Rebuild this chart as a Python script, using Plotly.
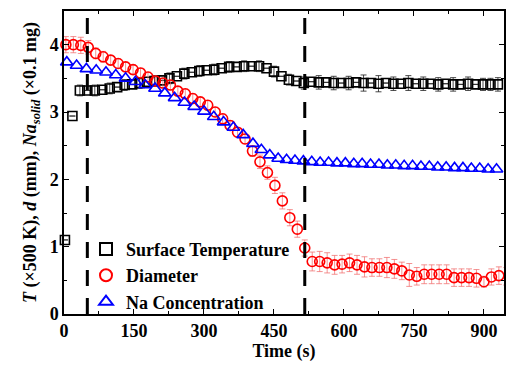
import plotly.graph_objects as go

# ---------------- data ----------------
temp_t = [2 + 16 * k for k in range(59)]
temp_v = [1.10, 2.94, 3.32, 3.32, 3.32, 3.33, 3.35, 3.37, 3.40, 3.41,
          3.43, 3.45, 3.46, 3.47, 3.50, 3.53, 3.57, 3.59, 3.61, 3.62,
          3.63, 3.65, 3.67, 3.67, 3.68, 3.68, 3.68, 3.65, 3.60, 3.53,
          3.48, 3.46, 3.43, 3.45, 3.44, 3.44, 3.43, 3.43, 3.43, 3.44,
          3.43, 3.43, 3.42, 3.43, 3.42, 3.42, 3.43, 3.42, 3.42, 3.42,
          3.41, 3.42, 3.41, 3.41, 3.42, 3.41, 3.41, 3.41, 3.41]
temp_err = [None, None, 0.08, None, 0.08, None, 0.08, None, 0.08, None,
            0.08, None, 0.08, None, 0.08, None, 0.08, None, 0.08, None,
            0.08, None, 0.08, None, 0.08, None, 0.08, None, 0.08, None,
            0.08, None, 0.09, None, 0.10, None, 0.10, None, 0.10, None,
            0.12, None, 0.12, None, 0.10, None, 0.11, None, 0.10, None,
            0.10, None, 0.10, None, 0.10, None, 0.09, 0.09, 0.10]

diam_t = [4 + 16 * k for k in range(60)]
diam_v = [4.00, 4.00, 3.99, 3.96, 3.87, 3.82, 3.77, 3.72, 3.67, 3.63,
          3.58, 3.52, 3.46, 3.43, 3.40, 3.31, 3.27, 3.20, 3.15, 3.10,
          3.00, 2.90, 2.80, 2.70, 2.60, 2.42, 2.26, 2.10, 1.91, 1.68,
          1.43, 1.26, 0.98, 0.78, 0.78, 0.76, 0.73, 0.74, 0.76, 0.73,
          0.70, 0.69, 0.69, 0.69, 0.67, 0.64, 0.58, 0.56, 0.59, 0.59,
          0.59, 0.59, 0.54, 0.54, 0.54, 0.53, 0.48, 0.55, 0.57, 0.56]
diam_err = [0.12, 0.12, 0.12, 0.10, 0.08, 0.08, 0.07, 0.07, 0.07, 0.07,
            0.07, 0.07, 0.07, 0.07, 0.07, 0.07, 0.07, 0.07, 0.07, 0.07,
            0.07, 0.07, 0.07, 0.07, 0.07, 0.08, 0.10, 0.10, 0.12, 0.12,
            0.12, 0.12, 0.12, 0.14, 0.15, 0.15, 0.14, 0.13, 0.13, 0.14,
            0.15, 0.13, 0.13, 0.15, 0.14, 0.13, 0.17, 0.13, 0.14, 0.14,
            0.14, 0.14, 0.13, 0.13, 0.13, 0.13, 0.08, 0.12, 0.13, 0.13]

na_t = [6, 27, 48, 69, 90, 111, 132, 153, 174, 195, 216, 237, 258, 279,
        300, 321, 342, 363, 384, 405] + [423 + 18 * k for k in range(30)]
na_v = [3.74, 3.69, 3.64, 3.62, 3.59, 3.55, 3.50, 3.45, 3.40, 3.35,
        3.28, 3.21, 3.14, 3.08, 3.01, 2.93, 2.85, 2.77, 2.66, 2.53,
        2.44, 2.36, 2.31, 2.29, 2.28, 2.27, 2.26, 2.25, 2.25, 2.24,
        2.24, 2.23, 2.23, 2.22, 2.22, 2.21, 2.21, 2.20, 2.20, 2.19,
        2.19, 2.18, 2.18, 2.17, 2.17, 2.16, 2.16, 2.15, 2.15, 2.15]

stage_lines = [50, 516]
x_ticks = [0, 150, 300, 450, 600, 750, 900]
y_ticks = [0, 1, 2, 3, 4]

FONT = "Liberation Serif"
FS = 18

fig = go.Figure()

fig.add_trace(go.Scatter(
    x=temp_t, y=temp_v, mode="markers", name="Surface Temperature",
    marker=dict(symbol="square-open", size=9, color="black", line=dict(width=1.6, color="black")),
    error_y=dict(type="data", array=temp_err, visible=True, color="rgba(40,40,40,0.85)",
                 thickness=1, width=3),
    cliponaxis=False))

fig.add_trace(go.Scatter(
    x=diam_t, y=diam_v, mode="markers", name="Diameter",
    marker=dict(symbol="circle-open", size=10, color="red", line=dict(width=1.6, color="red")),
    error_y=dict(type="data", array=diam_err, visible=True, color="rgba(240,110,110,0.75)",
                 thickness=1, width=3),
    cliponaxis=False))

fig.add_trace(go.Scatter(
    x=na_t, y=na_v, mode="markers", name="Na Concentration",
    marker=dict(symbol="triangle-up-open", size=11, color="blue", line=dict(width=1.6, color="blue")),
    cliponaxis=False))

for xv in stage_lines:
    fig.add_shape(type="line", xref="x", yref="paper", x0=xv, x1=xv, y0=0, y1=0.985,
                  line=dict(color="black", width=3, dash="16px,12px"))

axis_common = dict(showline=True, linecolor="black", linewidth=1.5, mirror="ticks",
                   ticks="inside", ticklen=5, tickwidth=1.3, tickcolor="black",
                   showgrid=False, zeroline=False,
                   tickfont=dict(family=FONT, size=FS, color="black", weight="bold"))

fig.update_xaxes(range=[0, 943], tickvals=x_ticks, ticktext=[str(v) for v in x_ticks],
                 minor=dict(dtick=75, tick0=0, ticks="inside", ticklen=3, tickcolor="black"),
                 title=dict(text="Time (s)", font=dict(family=FONT, size=FS, color="black", weight="bold"),
                            standoff=4),
                 **axis_common)
fig.update_yaxes(range=[0, 4.5], tickvals=y_ticks, ticktext=[str(v) for v in y_ticks],
                 minor=dict(dtick=0.5, tick0=0, ticks="inside", ticklen=3, tickcolor="black"),
                 title=dict(text="<i>T</i> (×500 K), <i>d</i> (mm), <i>Na</i><sub><i>solid</i></sub> (×0.1 mg)",
                            font=dict(family=FONT, size=FS, color="black", weight="bold"),
                            standoff=8),
                 **axis_common)

fig.update_layout(
    width=506, height=368,
    margin=dict(l=64, r=0, t=11, b=54),
    paper_bgcolor="white", plot_bgcolor="white",
    font=dict(family=FONT, size=FS, color="black", weight="bold"),
    showlegend=True,
    legend=dict(x=0.05, y=0.275, xanchor="left", yanchor="top",
                bgcolor="rgba(0,0,0,0)", borderwidth=0,
                font=dict(family=FONT, size=FS, color="black", weight="bold"),
                tracegroupgap=0, itemsizing="constant", itemwidth=30),
)

fig.write_html("out.html")
